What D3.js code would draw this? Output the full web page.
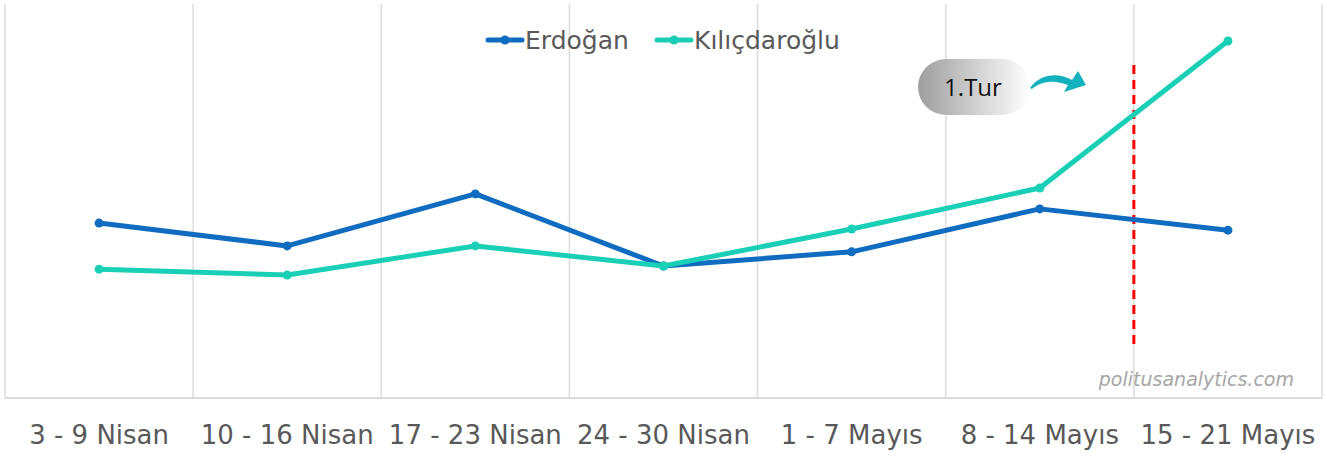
<!DOCTYPE html>
<html>
<head>
<meta charset="utf-8">
<script src="https://cdn.jsdelivr.net/npm/d3@7"></script>
<style>
  body { margin: 0; background: #fff; }
</style>
</head>
<body>
<div id="chart"></div>
<script>
let w = 1327;
let h = 456;
let margin = {top: 4, right: 5, bottom: 58, left: 5};

// weeks
let weeks = ["3 - 9 Nisan", "10 - 16 Nisan", "17 - 23 Nisan", "24 - 30 Nisan", "1 - 7 Mayıs", "8 - 14 Mayıs", "15 - 21 Mayıs"];
// values (no y axis shown, relative units)
let erdogan = [44.4, 38.6, 51.8, 33.5, 37.1, 48.0, 42.6];
let kilicdaroglu = [32.7, 31.2, 38.6, 33.5, 42.9, 53.3, 90.6];
let seriesNames = ["Erdoğan", "Kılıçdaroğlu"];
let colors = ["#0f6cc0", "#19d0b6"];

let viz = d3.select("#chart")
  .append("svg")
  .attr("width", w)
  .attr("height", h)
  .style("font-family", "DejaVu Sans, Verdana, sans-serif");

let xScale = d3.scaleBand().domain(weeks).range([margin.left, w - margin.right]);
let yScale = d3.scaleLinear().domain([0, 100]).range([h - margin.bottom, margin.top]);

// gridlines on the category boundaries
let bounds = weeks.map(d => xScale(d)).concat([w - margin.right]);
viz.selectAll(".grid").data(bounds).enter()
  .append("line")
  .attr("class", "grid")
  .attr("x1", d => d).attr("x2", d => d)
  .attr("y1", margin.top).attr("y2", h - margin.bottom)
  .attr("stroke", "#dcdcdc")
  .attr("stroke-width", 1.5);

viz.append("line")
  .attr("x1", margin.left).attr("x2", w - margin.right)
  .attr("y1", h - margin.bottom).attr("y2", h - margin.bottom)
  .attr("stroke", "#dcdcdc")
  .attr("stroke-width", 2);

// x labels
let xAxis = d3.axisBottom(xScale).tickSize(0).tickPadding(28);
let xAxisGroup = viz.append("g")
  .attr("transform", "translate(0," + (h - margin.bottom) + ")")
  .call(xAxis);
xAxisGroup.select(".domain").remove();
xAxisGroup.selectAll("text")
  .attr("font-size", 26)
  .attr("fill", "#595959")
  .style("font-family", "DejaVu Sans, Verdana, sans-serif");

// watermark
viz.append("text")
  .text("politusanalytics.com")
  .attr("x", 1294).attr("y", 386)
  .attr("text-anchor", "end")
  .attr("font-size", 19)
  .attr("font-style", "italic")
  .attr("fill", "#a6a6a6");

// red dashed line for first round
viz.append("line")
  .attr("x1", xScale(weeks[6])).attr("x2", xScale(weeks[6]))
  .attr("y1", 65).attr("y2", 345)
  .attr("stroke", "#ff0000")
  .attr("stroke-width", 3)
  .attr("stroke-dasharray", "9,6");

// lines
let line = d3.line()
  .x((d, i) => xScale(weeks[i]) + xScale.bandwidth() / 2)
  .y(d => yScale(d));

let allSeries = [erdogan, kilicdaroglu];
allSeries.forEach(function(vals, s){
  viz.append("path")
    .datum(vals)
    .attr("d", line)
    .attr("fill", "none")
    .attr("stroke", colors[s])
    .attr("stroke-width", 5)
    .attr("stroke-linejoin", "round");
  viz.selectAll(".pt" + s).data(vals).enter()
    .append("circle")
    .attr("class", "pt" + s)
    .attr("cx", (d, i) => xScale(weeks[i]) + xScale.bandwidth() / 2)
    .attr("cy", d => yScale(d))
    .attr("r", 4.5)
    .attr("fill", colors[s]);
});

// legend
let legendX = [488, 657];
seriesNames.forEach(function(name, s){
  let g = viz.append("g").attr("transform", "translate(" + legendX[s] + ",40)");
  g.append("line").attr("x1", 0).attr("x2", 34).attr("y1", 0).attr("y2", 0)
    .attr("stroke", colors[s]).attr("stroke-width", 5).attr("stroke-linecap", "round");
  g.append("circle").attr("cx", 17).attr("cy", 0).attr("r", 4.5).attr("fill", colors[s]);
  g.append("text").text(name)
    .attr("x", 37).attr("y", 9)
    .attr("font-size", 25)
    .attr("fill", "#595959");
});

// 1.Tur annotation
let defs = viz.append("defs");
let grad = defs.append("linearGradient").attr("id", "pill");
grad.append("stop").attr("offset", "0%").attr("stop-color", "#9e9e9e");
grad.append("stop").attr("offset", "100%").attr("stop-color", "#ffffff");

viz.append("rect")
  .attr("x", 918).attr("y", 59)
  .attr("width", 112).attr("height", 56)
  .attr("rx", 28).attr("ry", 28)
  .attr("fill", "url(#pill)");
viz.append("text")
  .text("1.Tur")
  .attr("x", 973).attr("y", 96)
  .attr("text-anchor", "middle")
  .attr("font-size", 24)
  .attr("fill", "#111")
  .style("font-family", "Open Sans, sans-serif");

// curved arrow
viz.append("path")
  .attr("d", "M1030,88 C1040,74 1058,72 1072,80 L1078,71 L1086,85 L1064,92 L1068,85 C1056,80 1042,80 1032,89 Z")
  .attr("fill", "#13b1bd");
</script>
</body>
</html>
